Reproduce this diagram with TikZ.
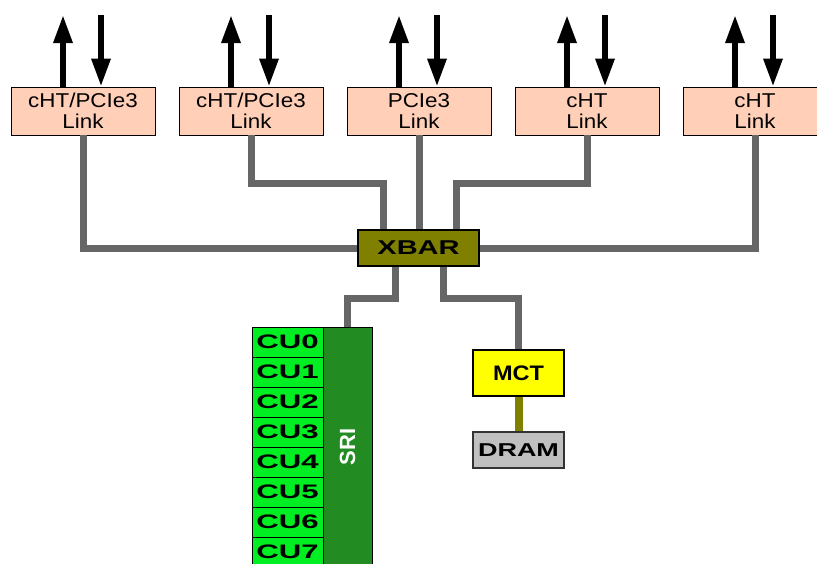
\documentclass[tikz,border=0pt]{standalone}
\usepackage{fontspec}
\setmainfont{Liberation Sans}[FakeStretch=1.12]
\newfontfamily\normalsf{Liberation Sans}
\newfontfamily\anchosf[FakeStretch=1.45]{Liberation Sans}
\newfontfamily\muyanchosf[FakeStretch=1.6]{Liberation Sans}
\usepackage{tikz}
\usetikzlibrary{arrows.meta,calc,positioning}
\definecolor{salmon}{HTML}{FFCFB8}
\definecolor{gris}{HTML}{666666}
\definecolor{oliva}{HTML}{808000}
\definecolor{verdecu}{HTML}{00EE22}
\definecolor{verdesri}{HTML}{228B22}
\definecolor{amarillo}{HTML}{FFFF00}
\definecolor{plata}{HTML}{C0C0C0}
\tikzset{
  enlace/.style={rectangle,draw=black,fill=salmon,line width=0.8pt,inner sep=0pt,minimum width=144pt,minimum height=48pt,align=center,font=\fontsize{20}{21}\selectfont},
  cruce/.style={rectangle,draw=black,fill=oliva,line width=2pt,inner sep=0pt,minimum width=121pt,minimum height=36pt,font=\anchosf\fontsize{20}{24}\selectfont\bfseries},
  nucleo/.style={rectangle,draw=black,fill=verdecu,line width=0.8pt,inner sep=0pt,minimum width=71pt,minimum height=30pt,font=\muyanchosf\fontsize{19.5}{22}\selectfont\bfseries},
  sri/.style={rectangle,draw=black,fill=verdesri,line width=0.8pt,inner sep=0pt,minimum width=49pt,minimum height=240pt},
  memctl/.style={rectangle,draw=black,fill=amarillo,line width=1.8pt,inner sep=0pt,minimum width=91pt,minimum height=46pt,font=\fontsize{21}{24}\selectfont\bfseries},
  dram/.style={rectangle,draw=black!80,fill=plata,line width=1.8pt,inner sep=0pt,minimum width=91pt,minimum height=36pt,font=\anchosf\fontsize{18.6}{22}\selectfont\bfseries},
  bus/.style={draw=gris,line width=7pt},
  busmem/.style={draw=oliva,line width=8pt},
  flecha/.style={draw=black,line width=6pt,-{Triangle[length=28pt,width=18pt]}},
}

\begin{document}
\begin{tikzpicture}[x=1pt,y=-1pt]
\clip (0,0) rectangle (817,563);
\coordinate (arriba) at (0,15);
% enlaces
\node[enlace] (l1) at (83,111) {cHT/PCIe3\\Link};
\node[enlace] (l2) at (251,111) {cHT/PCIe3\\Link};
\node[enlace] (l3) at (419,111) {PCIe3\\Link};
\node[enlace] (l4) at (587,111) {cHT\\Link};
\node[enlace] (l5) at (755,111) {cHT\\Link};
\foreach \n in {l1,l2,l3,l4,l5} {
  \draw[flecha] ([xshift=-20pt]\n.north) -- ([xshift=-20pt]\n.north |- arriba);
  \draw[flecha] ([xshift=18pt]\n.north |- arriba) -- ([xshift=18pt]\n.north);
}
% crossbar
\node[cruce] (xbar) at (418.5,248) {XBAR};
% nucleos y SRI
\foreach \i in {0,...,7}
  \node[nucleo] (cu\i) at (287.5,342+30*\i) {CU\i};
\node[sri] (sri) at (347.5,447) {};
\node[rotate=90,text=white,font=\normalsf\fontsize{22}{24}\selectfont\bfseries] (srit) at (sri.center) {SRI};
% memoria
\node[memctl] (mct) at (518.5,373) {MCT};
\node[dram] (dram) at (518.5,450) {DRAM};
% conexiones
\draw[bus] (l1.south) |- (xbar.west);
\draw[bus] (l2.south) -- ++(0,48) -| ([xshift=-35pt]xbar.north);
\draw[bus] (l3.south) -- (l3.south |- xbar.north);
\draw[bus] (l4.south) -- ++(0,48) -| ([xshift=38pt]xbar.north);
\draw[bus] (l5.south) |- (xbar.east);
\draw[bus] ([xshift=-23pt]xbar.south) -- ++(0,31) -| (sri.north);
\draw[bus] ([xshift=25pt]xbar.south) -- ++(0,31) -| (mct.north);
\draw[busmem] (mct.south) -- (dram.north);
\end{tikzpicture}
\end{document}
